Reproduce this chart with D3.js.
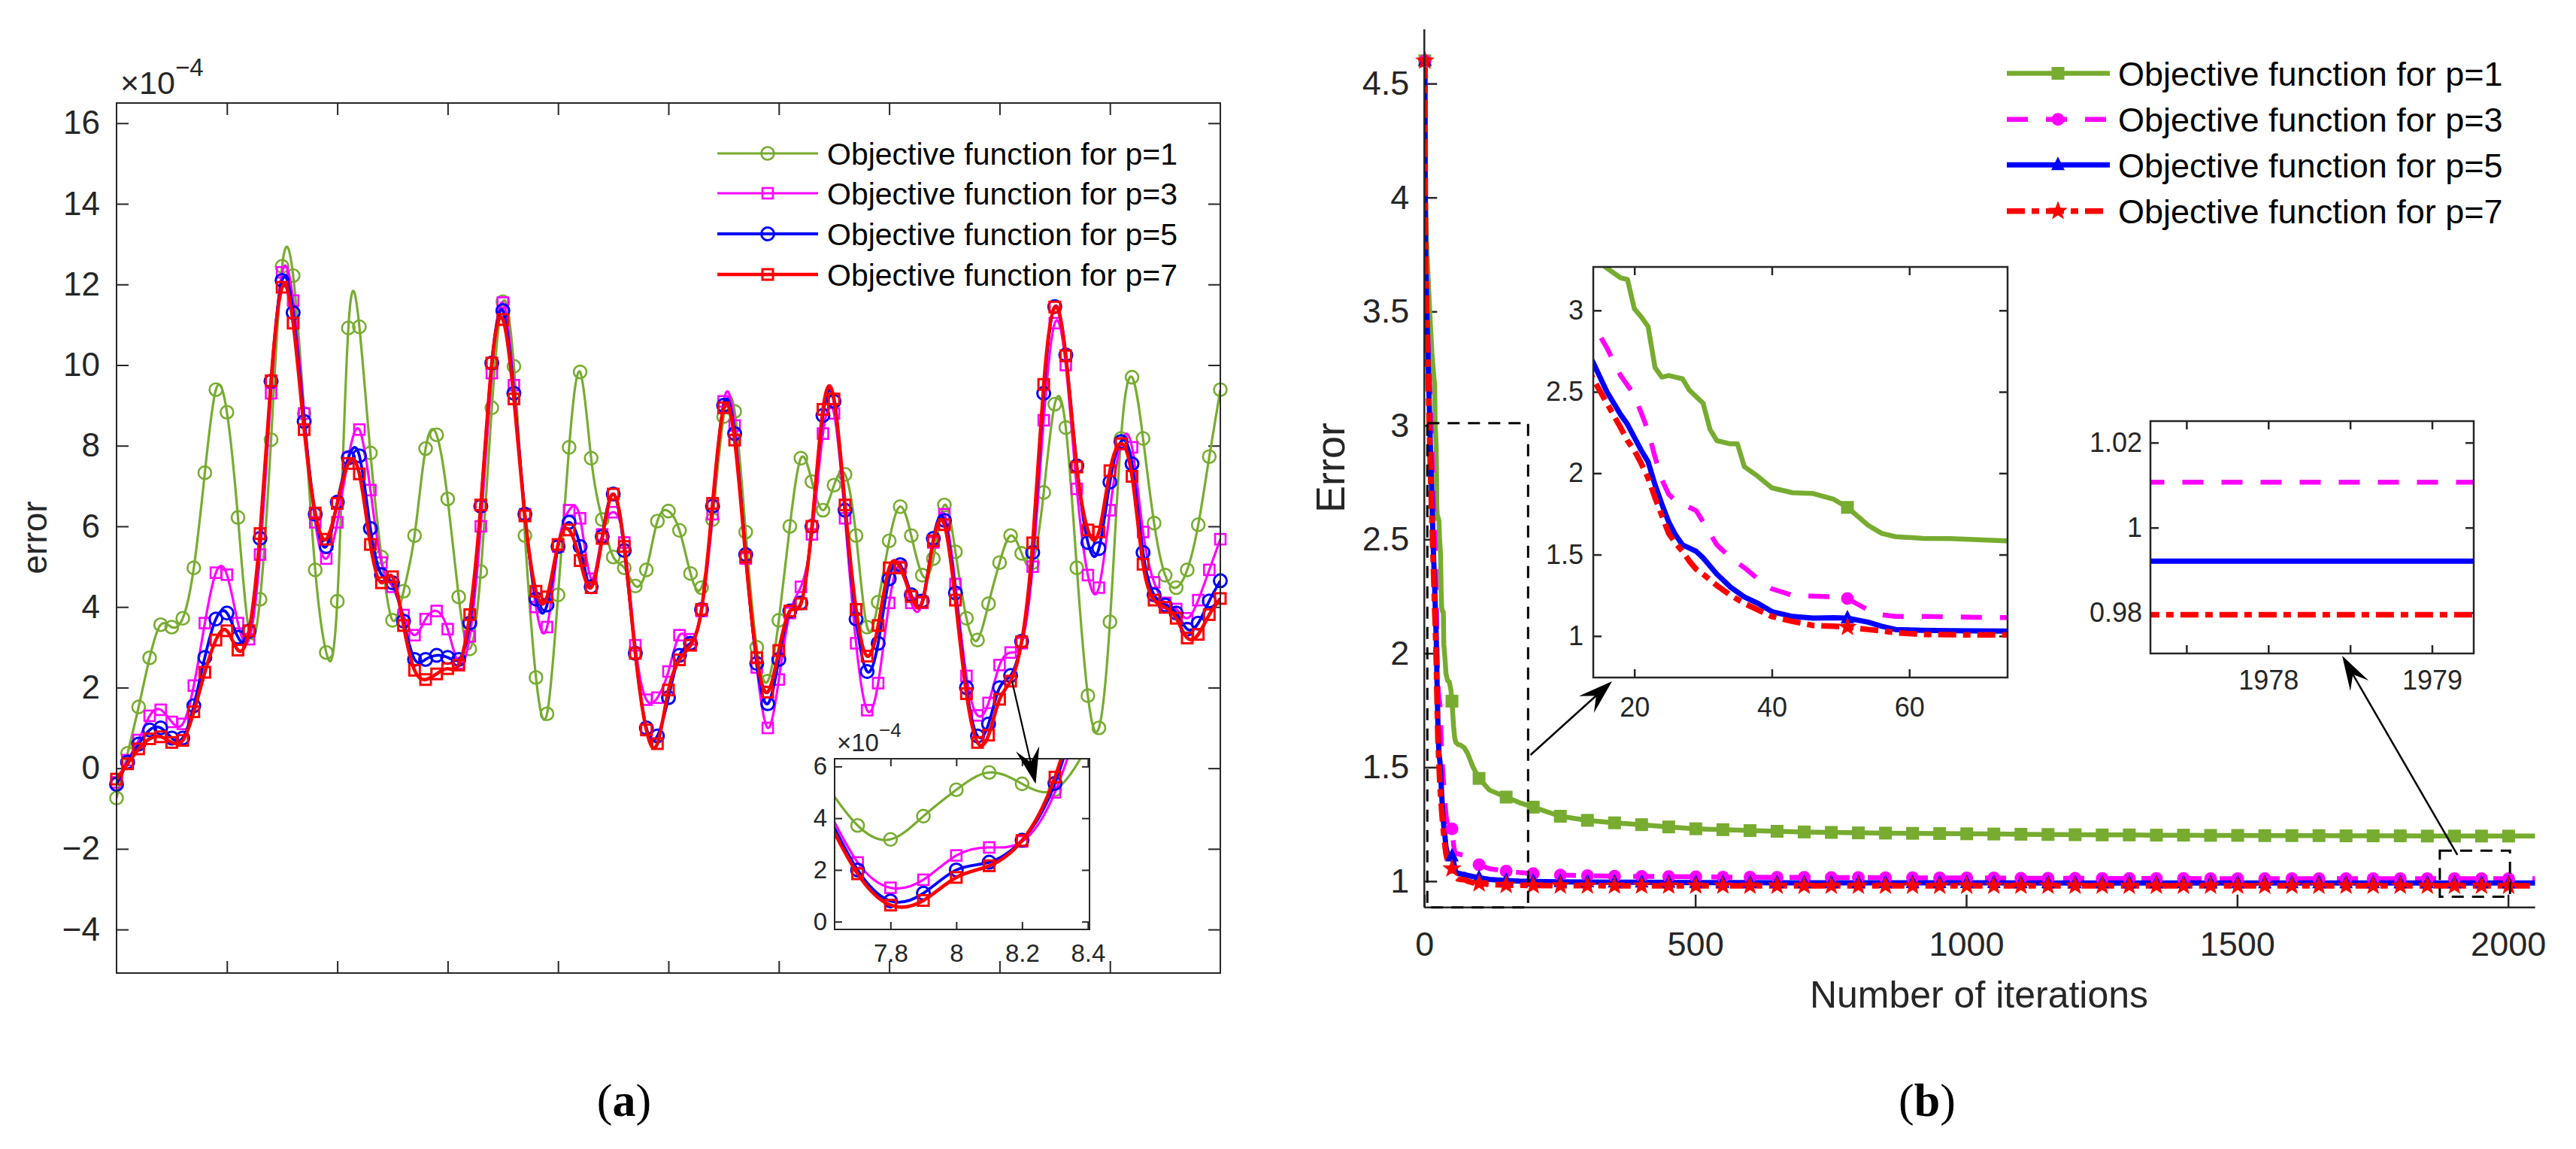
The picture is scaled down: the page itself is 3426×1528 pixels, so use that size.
<!DOCTYPE html>
<html><head><meta charset="utf-8">
<script src="https://cdn.jsdelivr.net/npm/d3@7"></script>
<style>body{margin:0;background:#fff}svg{display:block}</style>
</head><body>
<svg id="c" width="3426" height="1528" xmlns="http://www.w3.org/2000/svg"></svg>
<script>
// ---------------- DATA: panel (a) ----------------
const aX = [0,0.1,0.2,0.3,0.4,0.5,0.6,0.7,0.8,0.9,1,1.1,1.2,1.3,1.4,1.5,1.6,1.7,1.8,1.9,2,2.1,2.2,2.3,2.4,2.5,2.6,2.7,2.8,2.9,3,3.1,3.2,3.3,3.4,3.5,3.6,3.7,3.8,3.9,4,4.1,4.2,4.3,4.4,4.5,4.6,4.7,4.8,4.9,5,5.1,5.2,5.3,5.4,5.5,5.6,5.7,5.8,5.9,6,6.1,6.2,6.3,6.4,6.5,6.6,6.7,6.8,6.9,7,7.1,7.2,7.3,7.4,7.5,7.6,7.7,7.8,7.9,8,8.1,8.2,8.3,8.4,8.5,8.6,8.7,8.8,8.9,9,9.1,9.2,9.3,9.4,9.5,9.6,9.7,9.8,9.9,10];
const aP1 = [-0.74,0.37,1.52,2.74,3.56,3.50,3.72,4.97,7.33,9.39,8.83,6.22,3.4,4.19,8.15,12.45,12.22,8.8,4.92,2.87,4.14,10.92,10.95,7.82,5.24,3.67,4.39,5.77,7.93,8.27,6.68,4.25,2.96,4.88,8.94,11.57,9.97,5.77,2.25,1.35,4.3,7.96,9.83,7.69,6.17,5.24,4.97,4.52,4.92,6.13,6.38,
  5.9,4.83,4.48,6.17,8.72,8.85,5.86,3.0,2.16,3.67,6.0,7.69,7.11,6.4,7.02,7.29,5.77,3.5,4.12,5.64,6.49,5.77,4.79,5.2,6.53,5.37,3.72,3.18,4.08,5.1,5.77,5.33,5.1,6.84,9.03,8.45,4.97,1.8,1.0,3.63,8.18,9.7,8.18,6.08,4.79,4.48,4.92,6.04,7.73,9.39];
const aP3 = [-0.35,0.2,0.7,1.3,1.45,1.15,1.1,2.05,3.6,4.85,4.8,3.6,3.2,5.3,9.3,12.3,11.6,8.8,6.1,5.2,6.1,7.7,8.4,6.9,5.1,4.5,3.8,3.3,3.7,3.9,3.45,2.6,3.27,6.0,9.8,11.55,9.5,6.3,4.0,3.5,5.5,6.4,6.2,4.7,5.8,6.35,5.6,3.05,1.7,1.75,2.4,
  3.3,3.2,3.9,6.3,9.1,8.5,5.2,2.5,1.0,2.2,3.85,4.5,5.8,8.3,8.8,6.2,3.1,1.44,2.11,4.1,5.0,4.1,4.1,5.6,6.3,4.57,2.29,1.31,1.62,2.56,2.87,3.1,5.0,8.63,11.04,10.0,6.93,4.79,4.48,6.4,8.05,7.96,5.86,4.61,4.1,3.95,3.72,4.17,4.92,5.68];
const aP5 = [-0.4,0.15,0.6,0.95,1.0,0.75,0.75,1.55,2.75,3.7,3.85,3.25,3.4,5.7,9.6,12.1,11.3,8.6,6.3,5.5,6.6,7.7,7.75,5.95,4.8,4.6,3.65,2.7,2.7,2.8,2.75,2.7,3.6,6.5,10.05,11.35,9.3,6.3,4.2,4.05,5.5,6.1,5.5,4.5,5.75,6.8,5.4,2.85,1.0,0.8,1.75,
  2.8,3.1,3.94,6.5,9.0,8.3,5.3,2.6,1.6,2.7,3.9,4.1,6.0,8.75,9.1,6.4,3.7,2.4,3.1,4.7,5.05,4.3,4.15,5.7,6.15,4.35,2.0,0.8,1.1,2.0,2.3,3.15,5.35,9.3,11.45,10.25,7.5,5.6,5.45,7.1,8.1,7.55,5.35,4.3,4.05,3.85,3.45,3.6,4.15,4.65];
const aP7 = [-0.27,0.11,0.48,0.73,0.78,0.64,0.69,1.40,2.38,3.18,3.41,2.93,3.41,5.82,9.61,11.93,11.04,8.40,6.33,5.68,6.57,7.56,7.3,5.55,4.6,4.75,3.54,2.43,2.2,2.34,2.47,2.56,3.81,6.53,10.05,11.13,9.16,6.26,4.39,4.25,5.55,5.91,5.15,4.48,5.70,6.80,5.50,2.85,0.95,0.61,1.94,
  2.69,3.05,3.94,6.57,8.94,8.14,5.24,2.74,1.89,2.92,3.90,4.08,6.0,8.9,9.16,6.53,3.94,2.78,3.54,4.97,4.97,4.26,4.12,5.64,6.04,4.17,1.85,0.64,0.82,1.71,2.16,3.14,5.59,9.52,11.44,10.23,7.47,5.91,5.86,7.38,8.05,7.24,5.06,4.17,3.99,3.72,3.23,3.32,3.81,4.21];
const aYTicks = [-4,-2,0,2,4,6,8,10,12,14,16];
const aXTicks = [1,2,3,4,5,6,7,8,9];
const aInsetYTicks = [0,2,4,6];
const aInsetXTicks = [7.8,8,8.2,8.4];

// ---------------- DATA: panel (b) ----------------
const bIter = [1,2,5,8,11,14,16,18,19,20,21,22,23,24,25,26,27,28,29,30,31,32,34,35,36,38,40,43,46,49,51,54,56,58,62,66,70,74,80,90,101,120,151,175,201,
  251,301,351,401,451,501,551,601,651,701,751,801,851,901,951,1001,1051,1101,1151,1201,1251,1301,1351,1401,1451,1501,1551,1601,1651,1701,1751,1801,1851,1901,1951,2001,2050];
const bP1 = [4.6,4.0,3.75,3.6,3.45,3.32,3.26,3.2,3.19,3.01,2.96,2.9,2.65,2.59,2.6,2.59,2.58,2.51,2.47,2.43,2.27,2.2,2.18,2.18,2.04,1.98,1.91,1.88,1.875,1.84,1.79,1.68,1.63,1.61,1.6,1.598,1.592,1.585,1.56,1.5,1.451,1.4,1.369,1.345,1.325,
  1.285,1.267,1.256,1.248,1.238,1.23,1.226,1.222,1.219,1.216,1.214,1.212,1.211,1.21,1.209,1.208,1.207,1.206,1.205,1.204,1.203,1.203,1.202,1.202,1.201,1.201,1.2,1.2,1.2,1.199,1.199,1.199,1.198,1.198,1.198,1.198,1.198];
const bP3 = [4.6,3.8,3.5,3.3,3.1,2.915,2.77,2.6,2.54,2.48,2.37,2.26,2.1,1.96,1.87,1.83,1.81,1.79,1.77,1.7,1.63,1.56,1.48,1.45,1.42,1.35,1.29,1.25,1.245,1.24,1.23,1.16,1.13,1.12,1.12,1.118,1.115,1.113,1.1,1.085,1.072,1.055,1.044,1.038,1.033,
  1.027,1.024,1.022,1.021,1.02,1.019,1.018,1.018,1.017,1.017,1.016,1.016,1.015,1.015,1.014,1.014,1.014,1.013,1.013,1.013,1.012,1.012,1.012,1.012,1.011,1.011,1.011,1.011,1.011,1.011,1.011,1.011,1.011,1.011,1.0107,1.0107,1.0107];
const bP5 = [4.6,3.8,3.45,3.2,2.92,2.68,2.5,2.36,2.3,2.22,2.14,2.07,1.93,1.81,1.7,1.62,1.56,1.54,1.52,1.48,1.43,1.38,1.3,1.27,1.24,1.2,1.15,1.12,1.11,1.112,1.11,1.085,1.06,1.04,1.035,1.033,1.031,1.03,1.025,1.02,1.015,1.008,1.003,1.0,0.999,
  0.997,0.996,0.9955,0.995,0.9945,0.994,0.9937,0.9935,0.9933,0.9931,0.993,0.9929,0.9928,0.9927,0.9926,0.9925,0.9925,0.9924,0.9924,0.9923,0.9923,0.9923,0.9922,0.9922,0.9922,0.9922,0.9922,0.9921,0.9921,0.9921,0.9921,0.9921,0.9921,0.9921,0.9921,0.9921,0.9921];
const bP7 = [4.6,3.8,3.4,3.12,2.82,2.58,2.43,2.28,2.2,2.14,2.06,1.97,1.85,1.74,1.63,1.57,1.52,1.46,1.41,1.38,1.345,1.31,1.25,1.225,1.2,1.16,1.12,1.09,1.065,1.06,1.055,1.04,1.032,1.02,1.01,1.008,1.007,1.007,1.0,0.993,0.99,0.986,0.983,0.982,0.981,
  0.9805,0.9802,0.98,0.98,0.98,0.9799,0.9799,0.9798,0.9798,0.9798,0.9797,0.9797,0.9797,0.9797,0.9796,0.9796,0.9796,0.9796,0.9796,0.9796,0.9795,0.9795,0.9795,0.9795,0.9795,0.9795,0.9795,0.9795,0.9795,0.9795,0.9795,0.9795,0.9795,0.9795,0.9795,0.9795,0.9795];
const bYTicks = [1,1.5,2,2.5,3,3.5,4,4.5];
const bXTicks = [0,500,1000,1500,2000];
const bIn1YTicks = [1,1.5,2,2.5,3];
const bIn1XTicks = [20,40,60];
const bIn2YTicks = [0.98,1,1.02];
const bIn2XTicks = [1977.5,1978,1978.5,1979];
const bIn2XLabels = [1978,1979];
const legendLabels = ["Objective function for p=1","Objective function for p=3","Objective function for p=5","Objective function for p=7"];

// annotation geometry in data units
const bZoomBox1 = {x0:5.6, x1:191.5, y0:0.885, y1:3.01};
const bZoomBox2 = {x0:1874, x1:2003.5, y0:0.932, y1:1.134};
const bArrow1 = {x1:195.9, y1:1.554, x2:346.5, y2:1.877};
const bArrow2 = {x1:1906.5, y1:1.1155, x2:1693.8, y2:1.989};
const aArrow = {x1:8.113, y1:2.157, x2:8.327, y2:-0.39};

// ---------------- STYLE ----------------
const FONT = '"Liberation Sans", Arial, Helvetica, sans-serif';
const AXC = '#262626';
const C = {g:'#77AC30', m:'#FF00FF', b:'#0000FF', r:'#FF0000'};

const svg = d3.select('#c');
svg.append('rect').attr('width',3426).attr('height',1528).attr('fill','#fff');
const defs = svg.append('defs');
function clip(id,x,y,w,h){defs.append('clipPath').attr('id',id).append('rect').attr('x',x).attr('y',y).attr('width',w).attr('height',h);}
function styleAxis(sel, fs, sw){
  sel.attr('font-family',FONT).attr('font-size',fs);
  sel.select('.domain').remove();
  sel.selectAll('.tick line').attr('stroke',AXC).attr('stroke-width',sw||2);
  sel.selectAll('.tick text').attr('fill',AXC);
}
const fmt = d3.format('~g');

// ================= PANEL (a) =================
const xA = d3.scaleLinear().domain([0,10]).range([155,1623]);
const yA = d3.scaleLinear().domain([-5.08,16.5]).range([1294,137]);
const gA = svg.append('g');
clip('clipA',155,137,1468,1157);

gA.append('g').attr('transform','translate(155,0)').call(d3.axisLeft(yA).tickValues(aYTicks).tickSizeInner(-16).tickSizeOuter(0).tickPadding(22).tickFormat(d3.format('d'))).call(s=>styleAxis(s,44));
gA.append('g').attr('transform','translate(1623,0)').call(d3.axisRight(yA).tickValues(aYTicks).tickSizeInner(-16).tickSizeOuter(0).tickFormat('')).call(s=>styleAxis(s,44));
gA.append('g').attr('transform','translate(0,1294)').call(d3.axisBottom(xA).tickValues(aXTicks).tickSizeInner(-16).tickSizeOuter(0).tickFormat('')).call(s=>styleAxis(s,44));
gA.append('g').attr('transform','translate(0,137)').call(d3.axisTop(xA).tickValues(aXTicks).tickSizeInner(-16).tickSizeOuter(0).tickFormat('')).call(s=>styleAxis(s,44));

const seriesA = [
  {v:aP1, c:C.g, lw:3.2, m:'circle', ms:8.5, mw:2.6},
  {v:aP3, c:C.m, lw:3.2, m:'square', ms:14, mw:2.6},
  {v:aP5, c:C.b, lw:3.8, m:'circle', ms:8.5, mw:3},
  {v:aP7, c:C.r, lw:4.6, m:'square', ms:14, mw:3}
];
function markerA(g, s, x, y){
  if(s.m==='circle') g.append('circle').attr('cx',x).attr('cy',y).attr('r',s.ms).attr('fill','none').attr('stroke',s.c).attr('stroke-width',s.mw);
  else g.append('rect').attr('x',x-s.ms/2).attr('y',y-s.ms/2).attr('width',s.ms).attr('height',s.ms).attr('fill','none').attr('stroke',s.c).attr('stroke-width',s.mw);
}
function drawSeriesA(g, xs, ys, clipId, xd, yd){
  seriesA.forEach(s=>{
    const line = d3.line().x((d,i)=>xs(aX[i])).y(d=>ys(d)).curve(d3.curveNatural);
    g.append('path').attr('d',line(s.v)).attr('fill','none').attr('stroke',s.c).attr('stroke-width',s.lw).attr('clip-path',`url(#${clipId})`);
    const mg = g.append('g');
    s.v.forEach((d,i)=>{ if(aX[i]>=xd[0]&&aX[i]<=xd[1]&&d>=yd[0]&&d<=yd[1]) markerA(mg,s,xs(aX[i]),ys(d)); });
  });
}
drawSeriesA(gA, xA, yA, 'clipA', xA.domain(), yA.domain());
gA.append('rect').attr('x',155).attr('y',137).attr('width',1468).attr('height',1157).attr('fill','none').attr('stroke',AXC).attr('stroke-width',2);

const exA = gA.append('text').attr('x',160).attr('y',125).attr('font-family',FONT).attr('fill',AXC).attr('font-size',43);
exA.append('tspan').text('×10');
exA.append('tspan').attr('font-size',33).attr('dy',-24).text('−4');
gA.append('text').attr('transform','translate(62,715) rotate(-90)').attr('text-anchor','middle').attr('font-family',FONT).attr('font-size',46).attr('fill',AXC).text('error');

const legA = gA.append('g');
[204,257,311,365].forEach((yy,k)=>{
  const s = seriesA[k];
  legA.append('line').attr('x1',954).attr('x2',1088).attr('y1',yy).attr('y2',yy).attr('stroke',s.c).attr('stroke-width',s.lw);
  markerA(legA,s,1021,yy);
  legA.append('text').attr('x',1100).attr('y',yy).attr('dy','0.36em').attr('font-family',FONT).attr('font-size',41).attr('fill','#000').text(legendLabels[k]);
});

// inset (a)
const xAi = d3.scaleLinear().domain([7.63,8.405]).range([1110,1449]);
const yAi = d3.scaleLinear().domain([-0.3,6.3]).range([1236,1009]);
clip('clipAi',1110,1009,339,227);
const gAi = svg.append('g');
gAi.append('rect').attr('x',1110).attr('y',1009).attr('width',339).attr('height',227).attr('fill','#fff');
gAi.append('g').attr('transform','translate(1110,0)').call(d3.axisLeft(yAi).tickValues(aInsetYTicks).tickSizeInner(-10).tickSizeOuter(0).tickPadding(10).tickFormat(fmt)).call(s=>styleAxis(s,33));
gAi.append('g').attr('transform','translate(1449,0)').call(d3.axisRight(yAi).tickValues(aInsetYTicks).tickSizeInner(-10).tickSizeOuter(0).tickFormat('')).call(s=>styleAxis(s,33));
gAi.append('g').attr('transform','translate(0,1236)').call(d3.axisBottom(xAi).tickValues(aInsetXTicks).tickSizeInner(-10).tickSizeOuter(0).tickPadding(20).tickFormat(fmt)).call(s=>styleAxis(s,33));
gAi.append('g').attr('transform','translate(0,1009)').call(d3.axisTop(xAi).tickValues(aInsetXTicks).tickSizeInner(-10).tickSizeOuter(0).tickFormat('')).call(s=>styleAxis(s,33));
drawSeriesA(gAi, xAi, yAi, 'clipAi', xAi.domain(), yAi.domain());
gAi.append('rect').attr('x',1110).attr('y',1009).attr('width',339).attr('height',227).attr('fill','none').attr('stroke',AXC).attr('stroke-width',2);
const exAi = gAi.append('text').attr('x',1113).attr('y',999).attr('font-family',FONT).attr('fill',AXC).attr('font-size',33);
exAi.append('tspan').text('×10');
exAi.append('tspan').attr('font-size',26).attr('dy',-19).text('−4');

function arrow(g, x1,y1,x2,y2,L,W,lw){
  const ang = Math.atan2(y2-y1,x2-x1);
  const ux=Math.cos(ang), uy=Math.sin(ang);
  g.append('line').attr('x1',x1).attr('y1',y1).attr('x2',x2-ux*L*0.6).attr('y2',y2-uy*L*0.6).attr('stroke','#000').attr('stroke-width',lw);
  g.append('path').attr('d',`M0,0 L${-L},${-W} L${-0.62*L},0 L${-L},${W} Z`).attr('fill','#000')
    .attr('transform',`translate(${x2},${y2}) rotate(${ang*180/Math.PI})`);
}
arrow(svg, xA(aArrow.x1), yA(aArrow.y1), xA(aArrow.x2), yA(aArrow.y2), 48, 16, 2.2);

// ================= PANEL (b) =================
const xB = d3.scaleLinear().domain([0,2050]).range([1894.3,3371.7]);
const yB = d3.scaleLinear().domain([0.885,4.738]).range([1206.7,39]);
clip('clipB',1894.3,39,1477.4,1167.7);
const gB = svg.append('g');
gB.append('g').attr('transform','translate(1894.3,0)').call(d3.axisLeft(yB).tickValues(bYTicks).tickSizeInner(-17).tickSizeOuter(0).tickPadding(20).tickFormat(fmt)).call(s=>styleAxis(s,45,2.5));
gB.append('g').attr('transform','translate(0,1206.7)').call(d3.axisBottom(xB).tickValues(bXTicks).tickSizeInner(-17).tickSizeOuter(0).tickPadding(32).tickFormat(d3.format('d'))).call(s=>styleAxis(s,45,2.5));

const seriesB = [
  {v:bP1, c:C.g, dash:null, m:'square', lw:6.5},
  {v:bP3, c:C.m, dash:'28,24', m:'circle', lw:6.5},
  {v:bP5, c:C.b, dash:null, m:'triangle', lw:7},
  {v:bP7, c:C.r, dash:'24,9,10,9', m:'star', lw:7.5}
];
function starPath(R,r){let p='';for(let k=0;k<10;k++){const a=-Math.PI/2+k*Math.PI/5;const rr=k%2?r:R;p+=(k?'L':'M')+(rr*Math.cos(a)).toFixed(2)+','+(rr*Math.sin(a)).toFixed(2);}return p+'Z';}
function markerB(g, s, x, y){
  if(s.m==='square') g.append('rect').attr('x',x-8.5).attr('y',y-8.5).attr('width',17).attr('height',17).attr('fill',s.c);
  else if(s.m==='circle') g.append('circle').attr('cx',x).attr('cy',y).attr('r',8.5).attr('fill',s.c);
  else if(s.m==='triangle') g.append('path').attr('d','M0,-11 L9,7 L-9,7 Z').attr('transform',`translate(${x},${y})`).attr('fill',s.c);
  else g.append('path').attr('d',starPath(13.5,5.5)).attr('transform',`translate(${x},${y})`).attr('fill',s.c);
}
function drawSeriesB(g, xs, ys, clipId, withMarkers){
  const xd=xs.domain(), yd=ys.domain();
  seriesB.forEach(s=>{
    const line = d3.line().x((d,i)=>xs(bIter[i])).y(d=>ys(d));
    const p = g.append('path').attr('d',line(s.v)).attr('fill','none').attr('stroke',s.c).attr('stroke-width',s.lw).attr('clip-path',`url(#${clipId})`).attr('stroke-linejoin','round');
    if(s.dash) p.attr('stroke-dasharray',s.dash);
  });
  if(withMarkers){
    seriesB.forEach(s=>{
      const mg=g.append('g');
      s.v.forEach((d,i)=>{const it=bIter[i]; if((it-1)%50===0 && it>=xd[0] && it<=xd[1] && d>=yd[0] && d<=yd[1]) markerB(mg,s,xs(it),ys(d));});
    });
  }
}
drawSeriesB(gB, xB, yB, 'clipB', true);
gB.append('line').attr('x1',1894.3).attr('x2',1894.3).attr('y1',39).attr('y2',1206.7).attr('stroke',AXC).attr('stroke-width',2.5);
gB.append('line').attr('x1',1894.3).attr('x2',3371.7).attr('y1',1206.7).attr('y2',1206.7).attr('stroke',AXC).attr('stroke-width',2.5);

[bZoomBox1,bZoomBox2].forEach(bx=>{
  gB.append('rect').attr('x',xB(bx.x0)).attr('y',yB(bx.y1)).attr('width',xB(bx.x1)-xB(bx.x0)).attr('height',yB(bx.y0)-yB(bx.y1))
    .attr('fill','none').attr('stroke','#000').attr('stroke-width',3).attr('stroke-dasharray','16,11');
});

gB.append('text').attr('transform','translate(1788,622) rotate(-90)').attr('text-anchor','middle').attr('font-family',FONT).attr('font-size',54).attr('fill',AXC).text('Error');
gB.append('text').attr('x',2632).attr('y',1340).attr('text-anchor','middle').attr('font-family',FONT).attr('font-size',50).attr('fill',AXC).text('Number of iterations');

const legB = gB.append('g');
[97.5,158.8,219.3,280.7].forEach((yy,k)=>{
  const s = seriesB[k];
  const ln = legB.append('line').attr('x1',2669).attr('x2',2806).attr('y1',yy).attr('y2',yy).attr('stroke',s.c).attr('stroke-width',s.lw);
  if(s.dash) ln.attr('stroke-dasharray',s.dash);
  markerB(legB,s,2737,yy);
  legB.append('text').attr('x',2817).attr('y',yy).attr('dy','0.36em').attr('font-family',FONT).attr('font-size',45).attr('fill','#000').text(legendLabels[k]);
});

// inset 1 (b)
const xB1 = d3.scaleLinear().domain([14.02,74.3]).range([2119,2670]);
const yB1 = d3.scaleLinear().domain([0.745,3.267]).range([901,355]);
clip('clipB1',2119,355,551,546);
const gB1 = svg.append('g');
gB1.append('rect').attr('x',2119).attr('y',355).attr('width',551).attr('height',546).attr('fill','#fff');
gB1.append('g').attr('transform','translate(2119,0)').call(d3.axisLeft(yB1).tickValues(bIn1YTicks).tickSizeInner(-11).tickSizeOuter(0).tickPadding(13).tickFormat(fmt)).call(s=>styleAxis(s,36,2.5));
gB1.append('g').attr('transform','translate(2670,0)').call(d3.axisRight(yB1).tickValues(bIn1YTicks).tickSizeInner(-11).tickSizeOuter(0).tickFormat('')).call(s=>styleAxis(s,36,2.5));
gB1.append('g').attr('transform','translate(0,901)').call(d3.axisBottom(xB1).tickValues(bIn1XTicks).tickSizeInner(-11).tickSizeOuter(0).tickPadding(26).tickFormat(fmt)).call(s=>styleAxis(s,36,2.5));
gB1.append('g').attr('transform','translate(0,355)').call(d3.axisTop(xB1).tickValues(bIn1XTicks).tickSizeInner(-11).tickSizeOuter(0).tickFormat('')).call(s=>styleAxis(s,36,2.5));
drawSeriesB(gB1, xB1, yB1, 'clipB1', true);
gB1.append('rect').attr('x',2119).attr('y',355).attr('width',551).attr('height',546).attr('fill','none').attr('stroke',AXC).attr('stroke-width',2.5);

// inset 2 (b)
const xB2 = d3.scaleLinear().domain([1977.28,1979.255]).range([2860,3290]);
const yB2 = d3.scaleLinear().domain([0.9704,1.02506]).range([869,560]);
clip('clipB2',2860,560,430,309);
const gB2 = svg.append('g');
gB2.append('rect').attr('x',2860).attr('y',560).attr('width',430).attr('height',309).attr('fill','#fff');
gB2.append('g').attr('transform','translate(2860,0)').call(d3.axisLeft(yB2).tickValues(bIn2YTicks).tickSizeInner(-11).tickSizeOuter(0).tickPadding(11).tickFormat(fmt)).call(s=>styleAxis(s,36,2.5));
gB2.append('g').attr('transform','translate(3290,0)').call(d3.axisRight(yB2).tickValues(bIn2YTicks).tickSizeInner(-11).tickSizeOuter(0).tickFormat('')).call(s=>styleAxis(s,36,2.5));
gB2.append('g').attr('transform','translate(0,869)').call(d3.axisBottom(xB2).tickValues(bIn2XTicks).tickSizeInner(-11).tickSizeOuter(0).tickPadding(22).tickFormat(d=>bIn2XLabels.includes(d)?String(d):'')).call(s=>styleAxis(s,36,2.5));
gB2.append('g').attr('transform','translate(0,560)').call(d3.axisTop(xB2).tickValues(bIn2XTicks).tickSizeInner(-11).tickSizeOuter(0).tickFormat('')).call(s=>styleAxis(s,36,2.5));
drawSeriesB(gB2, xB2, yB2, 'clipB2', false);
gB2.append('rect').attr('x',2860).attr('y',560).attr('width',430).attr('height',309).attr('fill','none').attr('stroke',AXC).attr('stroke-width',2.5);

arrow(svg, xB(bArrow1.x1), yB(bArrow1.y1), xB(bArrow1.x2), yB(bArrow1.y2), 46, 15, 2.5);
arrow(svg, xB(bArrow2.x1), yB(bArrow2.y1), xB(bArrow2.x2), yB(bArrow2.y2), 46, 14, 2.5);

function caption(x, letter){
  const t = svg.append('text').attr('x',x).attr('y',1484).attr('text-anchor','middle').attr('font-family','"Liberation Serif","Times New Roman",serif').attr('font-size',62).attr('fill','#000');
  t.append('tspan').text('(');
  t.append('tspan').attr('font-weight','bold').text(letter);
  t.append('tspan').text(')');
}
caption(830,'a');
caption(2563,'b');
</script>
</body></html>
